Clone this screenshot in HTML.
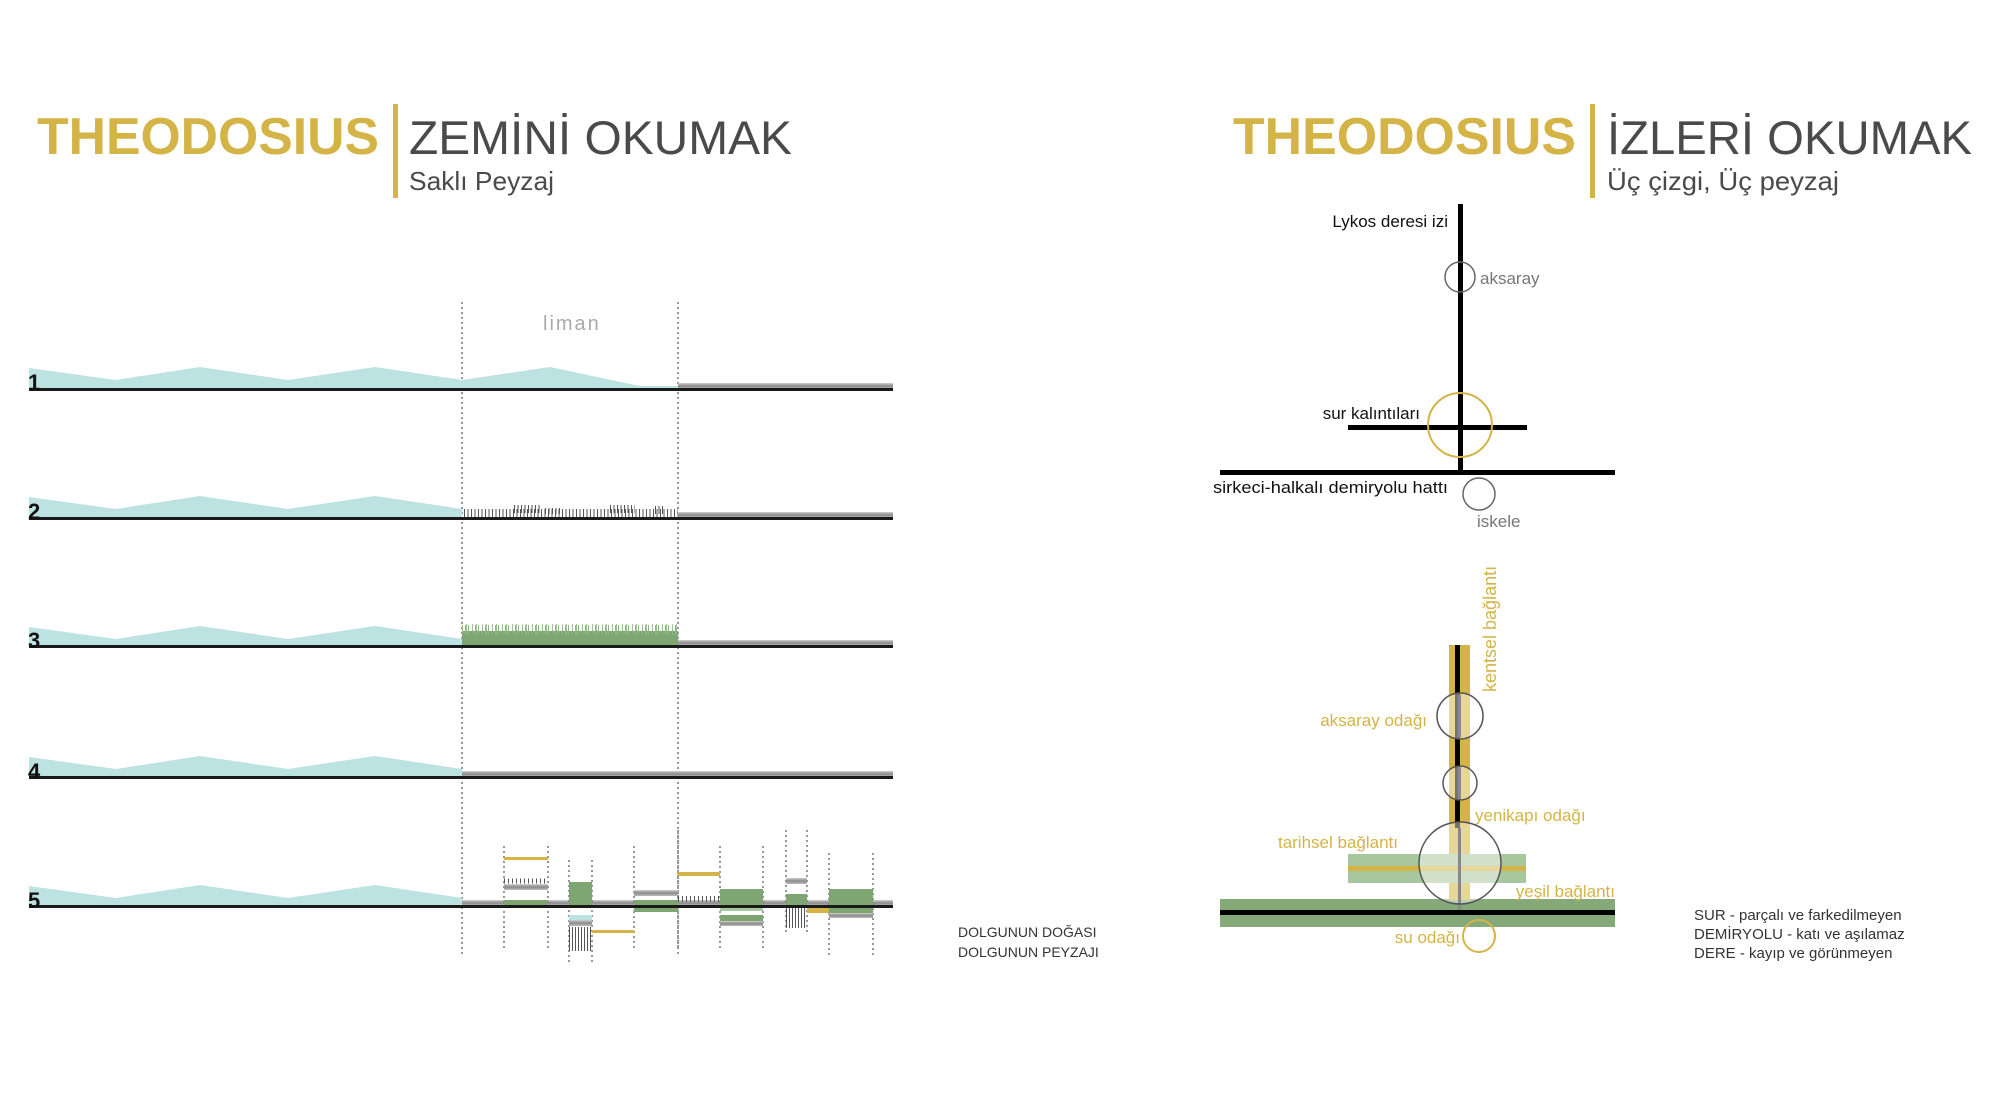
<!DOCTYPE html>
<html><head><meta charset="utf-8"><style>
html,body{margin:0;padding:0;background:#fff}
svg{display:block}
text{font-family:"Liberation Sans",sans-serif}
</style></head><body>
<svg width="2000" height="1096" viewBox="0 0 2000 1096" xmlns="http://www.w3.org/2000/svg">
<defs>
<linearGradient id="gr" x1="0" y1="0" x2="0" y2="1"><stop offset="0" stop-color="#cfcfcf"/><stop offset="0.5" stop-color="#8a8a8a"/><stop offset="1" stop-color="#bdbdbd"/></linearGradient>
</defs>
<text x="37" y="154" font-size="52" font-weight="bold" fill="#d4b447" textLength="342" lengthAdjust="spacingAndGlyphs">THEODOSIUS</text>
<rect x="393" y="104" width="5" height="94" fill="#d4b447"/>
<text x="409" y="154" font-size="47" fill="#4a4a4a" textLength="383" lengthAdjust="spacingAndGlyphs">ZEMİNİ OKUMAK</text>
<text x="409" y="190" font-size="26" fill="#4a4a4a" textLength="145" lengthAdjust="spacingAndGlyphs">Saklı Peyzaj</text>
<text x="1233" y="154" font-size="52" font-weight="bold" fill="#d4b447" textLength="343" lengthAdjust="spacingAndGlyphs">THEODOSIUS</text>
<rect x="1590" y="104" width="5" height="94" fill="#d4b447"/>
<text x="1607" y="154" font-size="47" fill="#4a4a4a" textLength="365" lengthAdjust="spacingAndGlyphs">İZLERİ OKUMAK</text>
<text x="1607" y="190" font-size="26" fill="#4a4a4a" textLength="232" lengthAdjust="spacingAndGlyphs">Üç çizgi, Üç peyzaj</text>

<text x="543" y="330" font-size="20" fill="#aaaaaa" letter-spacing="2">liman</text>
<g stroke="#777" stroke-width="1.5" stroke-dasharray="2 3">
<line x1="462" y1="302" x2="462" y2="955"/>
<line x1="678" y1="302" x2="678" y2="955"/>
</g>

<polygon points="29,389 29,368 116,380 200,367 288,380 375,367 462,380 550,367 640,386 678,386 678,389" fill="#bde2e2"/>
<rect x="678" y="383" width="215" height="6" fill="url(#gr)"/>
<rect x="29" y="388" width="864" height="3" fill="#1a1a1a"/>
<text x="28" y="390" font-size="22" font-weight="bold" fill="#111">1</text>

<polygon points="29,518 29,497 116,509 200,496 288,509 375,496 462,509 462,518" fill="#bde2e2"/>
<line x1="464" y1="513" x2="678" y2="513" stroke="#555" stroke-width="8" stroke-dasharray="1 2.5"/>
<line x1="514" y1="509" x2="540" y2="509" stroke="#555" stroke-width="8" stroke-dasharray="1 2.5"/>
<line x1="610" y1="509" x2="635" y2="509" stroke="#555" stroke-width="8" stroke-dasharray="1 2.5"/>
<line x1="545" y1="511" x2="560" y2="511" stroke="#555" stroke-width="6" stroke-dasharray="1 2.5"/>
<line x1="655" y1="510" x2="665" y2="510" stroke="#555" stroke-width="8" stroke-dasharray="1 2.5"/>
<rect x="678" y="512" width="215" height="6" fill="url(#gr)"/>
<rect x="29" y="517" width="864" height="3" fill="#1a1a1a"/>
<text x="28" y="519" font-size="22" font-weight="bold" fill="#111">2</text>

<polygon points="29,646 29,627 116,639 200,626 288,639 375,626 462,639 462,646" fill="#bde2e2"/>
<rect x="462" y="631" width="216" height="15" fill="#7fa672"/>
<line x1="462" y1="630" x2="678" y2="630" stroke="#8fb583" stroke-width="10" stroke-dasharray="1 2 2 1 1 3"/>
<line x1="466" y1="627" x2="678" y2="627" stroke="#a6c49b" stroke-width="6" stroke-dasharray="1 5 1 3"/>
<rect x="678" y="640" width="215" height="6" fill="url(#gr)"/>
<rect x="29" y="645" width="864" height="3" fill="#1a1a1a"/>
<text x="28" y="648" font-size="22" font-weight="bold" fill="#111">3</text>

<polygon points="29,777 29,757 116,769 200,756 288,769 375,756 462,769 462,777" fill="#bde2e2"/>
<rect x="462" y="771" width="431" height="6" fill="url(#gr)"/>
<rect x="29" y="776" width="864" height="3" fill="#1a1a1a"/>
<text x="28" y="779" font-size="22" font-weight="bold" fill="#111">4</text>

<polygon points="29,906 29,886 116,898 200,885 288,898 375,885 462,898 462,906" fill="#bde2e2"/>
<rect x="462" y="900" width="431" height="6" fill="url(#gr)"/>
<g stroke="#777" stroke-width="1.5" stroke-dasharray="2 3">
<line x1="504" y1="846" x2="504" y2="948"/><line x1="548" y1="846" x2="548" y2="948"/>
<line x1="569" y1="860" x2="569" y2="963"/><line x1="592" y1="860" x2="592" y2="963"/>
<line x1="634" y1="846" x2="634" y2="948"/><line x1="678" y1="830" x2="678" y2="948"/>
<line x1="720" y1="846" x2="720" y2="948"/><line x1="763" y1="846" x2="763" y2="948"/>
<line x1="786" y1="830" x2="786" y2="932"/><line x1="807" y1="830" x2="807" y2="932"/>
<line x1="829" y1="853" x2="829" y2="957"/><line x1="873" y1="853" x2="873" y2="957"/>
</g>
<rect x="504" y="857" width="44" height="3" fill="#d4b447"/>
<line x1="504" y1="881" x2="548" y2="881" stroke="#555" stroke-width="5" stroke-dasharray="1 3"/>
<rect x="504" y="884" width="44" height="6" fill="url(#gr)"/>
<rect x="504" y="900" width="44" height="5" fill="#7fa672"/>
<rect x="569" y="882" width="23" height="23" fill="#7fa672"/>
<rect x="569" y="915" width="23" height="5" fill="#bde2e2"/>
<rect x="569" y="920" width="23" height="6" fill="url(#gr)"/>
<line x1="569" y1="939" x2="592" y2="939" stroke="#555" stroke-width="24" stroke-dasharray="1 2"/>
<rect x="592" y="930" width="42" height="3" fill="#d4b447"/>
<rect x="634" y="890" width="44" height="6" fill="url(#gr)"/>
<rect x="634" y="900" width="44" height="12" fill="#7fa672"/>
<rect x="678" y="872" width="42" height="4" fill="#d4b447"/>
<line x1="678" y1="899" x2="720" y2="899" stroke="#555" stroke-width="6" stroke-dasharray="1 3"/>
<rect x="720" y="889" width="43" height="16" fill="#7fa672"/>
<rect x="720" y="907" width="43" height="4" fill="#a9c79e"/>
<rect x="720" y="915" width="43" height="6" fill="#7fa672"/>
<rect x="720" y="921" width="43" height="5" fill="url(#gr)"/>
<rect x="786" y="878" width="21" height="6" fill="url(#gr)"/>
<rect x="786" y="894" width="21" height="11" fill="#7fa672"/>
<line x1="786" y1="918" x2="807" y2="918" stroke="#555" stroke-width="20" stroke-dasharray="1 2"/>
<rect x="807" y="908" width="22" height="5" fill="#d4b447"/>
<rect x="829" y="889" width="44" height="16" fill="#7fa672"/>
<rect x="829" y="906" width="44" height="7" fill="#7fa672"/>
<rect x="829" y="913" width="44" height="5" fill="url(#gr)"/>
<rect x="29" y="905" width="864" height="3" fill="#1a1a1a"/>
<text x="28" y="908" font-size="22" font-weight="bold" fill="#111">5</text>

<text x="958" y="937" font-size="14" fill="#333">DOLGUNUN DOĞASI</text>
<text x="958" y="957" font-size="14" fill="#333">DOLGUNUN PEYZAJI</text>

<rect x="1458" y="204" width="5" height="268" fill="#000"/>
<rect x="1348" y="425" width="179" height="5" fill="#000"/>
<rect x="1220" y="470" width="395" height="5" fill="#000"/>
<circle cx="1460" cy="277" r="15" fill="none" stroke="#666" stroke-width="1.5"/>
<circle cx="1460" cy="425" r="32" fill="none" stroke="#d4b447" stroke-width="2"/>
<circle cx="1479" cy="494" r="16" fill="none" stroke="#666" stroke-width="1.5"/>
<text x="1448" y="227" font-size="17" fill="#111" text-anchor="end">Lykos deresi izi</text>
<text x="1480" y="284" font-size="17" fill="#777">aksaray</text>
<text x="1420" y="419" font-size="17" fill="#111" text-anchor="end">sur kalıntıları</text>
<text x="1448" y="493" font-size="17" fill="#111" text-anchor="end" textLength="235" lengthAdjust="spacingAndGlyphs">sirkeci-halkalı demiryolu hattı</text>
<text x="1477" y="527" font-size="17" fill="#777">iskele</text>

<rect x="1220" y="899" width="395" height="28" fill="#86a97a"/>
<rect x="1449" y="645" width="21" height="255" fill="#d4b447"/>
<rect x="1348" y="854" width="178" height="29" fill="#a9c79e"/>
<rect x="1348" y="866" width="178" height="5" fill="#d4b447"/>
<rect x="1455" y="645" width="5" height="183" fill="#000"/>
<circle cx="1460" cy="716" r="23" fill="#fff" fill-opacity="0.45"/>
<circle cx="1460" cy="783" r="17" fill="#fff" fill-opacity="0.45"/>
<circle cx="1460" cy="863" r="41" fill="#fff" fill-opacity="0.45"/>
<rect x="1458" y="695" width="3" height="42" fill="#888"/>
<rect x="1458" y="767" width="3" height="32" fill="#888"/>
<rect x="1458" y="828" width="3" height="84" fill="#888"/>
<rect x="1220" y="910" width="395" height="5" fill="#000"/>
<circle cx="1460" cy="716" r="23" fill="none" stroke="#555" stroke-width="1.5"/>
<circle cx="1460" cy="783" r="17" fill="none" stroke="#555" stroke-width="1.5"/>
<circle cx="1460" cy="863" r="41" fill="none" stroke="#555" stroke-width="1.5"/>
<circle cx="1479" cy="936" r="16" fill="none" stroke="#d4b447" stroke-width="2"/>
<text transform="translate(1496,692) rotate(-90)" font-size="18" fill="#d4b447">kentsel bağlantı</text>
<text x="1427" y="726" font-size="17" fill="#d4b447" text-anchor="end">aksaray odağı</text>
<text x="1475" y="821" font-size="17" fill="#d4b447">yenikapı odağı</text>
<text x="1398" y="848" font-size="17" fill="#d4b447" text-anchor="end">tarihsel bağlantı</text>
<text x="1615" y="897" font-size="17" fill="#d4b447" text-anchor="end">yeşil bağlantı</text>
<text x="1460" y="943" font-size="17" fill="#d4b447" text-anchor="end">su odağı</text>

<text x="1694" y="920" font-size="15" fill="#333">SUR - parçalı ve farkedilmeyen</text>
<text x="1694" y="939" font-size="15" fill="#333">DEMİRYOLU - katı ve aşılamaz</text>
<text x="1694" y="958" font-size="15" fill="#333">DERE - kayıp ve görünmeyen</text>
</svg>
</body></html>
